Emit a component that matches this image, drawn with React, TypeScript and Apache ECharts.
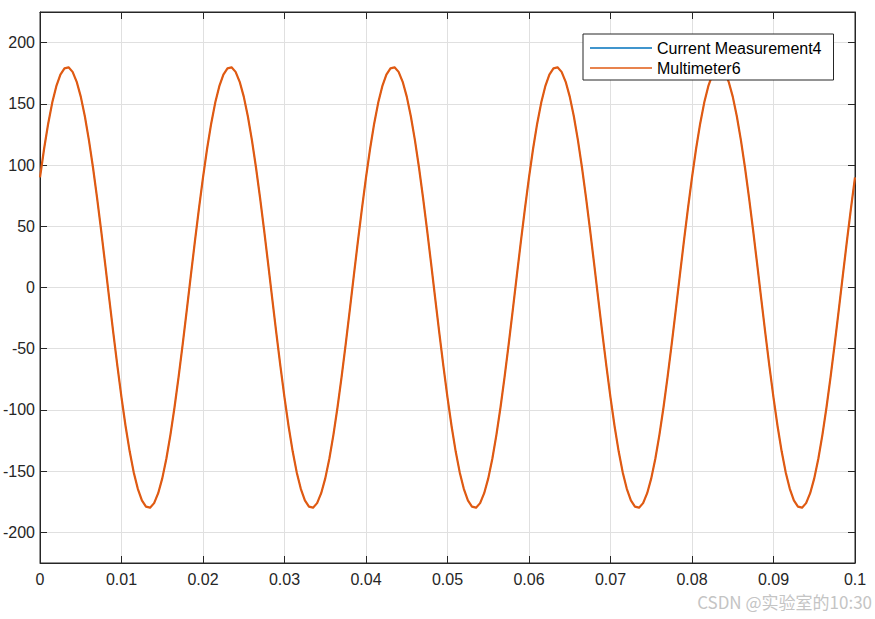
import React, { useEffect, useRef } from "react";
import * as echarts from "echarts";

// sampling step of the recorded signal (s)
const sampleStep = 0.0005;

// Current Measurement4 samples (A), one row per 0.02 s cycle
const currentMeasurement4: number[] = [
  90.0, 113.3, 133.8, 151.0, 164.4, 173.9, 179.0, 179.8, 176.1, 168.0, 155.9, 139.9, 120.4, 98.0, 73.2, 46.6, 18.8, -9.4, -37.4, -64.5,
  -90.0, -113.3, -133.8, -151.0, -164.4, -173.9, -179.0, -179.8, -176.1, -168.0, -155.9, -139.9, -120.4, -98.0, -73.2, -46.6, -18.8, 9.4, 37.4, 64.5,
  90.0, 113.3, 133.8, 151.0, 164.4, 173.9, 179.0, 179.8, 176.1, 168.0, 155.9, 139.9, 120.4, 98.0, 73.2, 46.6, 18.8, -9.4, -37.4, -64.5,
  -90.0, -113.3, -133.8, -151.0, -164.4, -173.9, -179.0, -179.8, -176.1, -168.0, -155.9, -139.9, -120.4, -98.0, -73.2, -46.6, -18.8, 9.4, 37.4, 64.5,
  90.0, 113.3, 133.8, 151.0, 164.4, 173.9, 179.0, 179.8, 176.1, 168.0, 155.9, 139.9, 120.4, 98.0, 73.2, 46.6, 18.8, -9.4, -37.4, -64.5,
  -90.0, -113.3, -133.8, -151.0, -164.4, -173.9, -179.0, -179.8, -176.1, -168.0, -155.9, -139.9, -120.4, -98.0, -73.2, -46.6, -18.8, 9.4, 37.4, 64.5,
  90.0, 113.3, 133.8, 151.0, 164.4, 173.9, 179.0, 179.8, 176.1, 168.0, 155.9, 139.9, 120.4, 98.0, 73.2, 46.6, 18.8, -9.4, -37.4, -64.5,
  -90.0, -113.3, -133.8, -151.0, -164.4, -173.9, -179.0, -179.8, -176.1, -168.0, -155.9, -139.9, -120.4, -98.0, -73.2, -46.6, -18.8, 9.4, 37.4, 64.5,
  90.0, 113.3, 133.8, 151.0, 164.4, 173.9, 179.0, 179.8, 176.1, 168.0, 155.9, 139.9, 120.4, 98.0, 73.2, 46.6, 18.8, -9.4, -37.4, -64.5,
  -90.0, -113.3, -133.8, -151.0, -164.4, -173.9, -179.0, -179.8, -176.1, -168.0, -155.9, -139.9, -120.4, -98.0, -73.2, -46.6, -18.8, 9.4, 37.4, 64.5,
  90.0,
];

// Multimeter6 reads the same waveform (it overlays the first trace exactly)
const multimeter6: number[] = [
  90.0, 113.3, 133.8, 151.0, 164.4, 173.9, 179.0, 179.8, 176.1, 168.0, 155.9, 139.9, 120.4, 98.0, 73.2, 46.6, 18.8, -9.4, -37.4, -64.5,
  -90.0, -113.3, -133.8, -151.0, -164.4, -173.9, -179.0, -179.8, -176.1, -168.0, -155.9, -139.9, -120.4, -98.0, -73.2, -46.6, -18.8, 9.4, 37.4, 64.5,
  90.0, 113.3, 133.8, 151.0, 164.4, 173.9, 179.0, 179.8, 176.1, 168.0, 155.9, 139.9, 120.4, 98.0, 73.2, 46.6, 18.8, -9.4, -37.4, -64.5,
  -90.0, -113.3, -133.8, -151.0, -164.4, -173.9, -179.0, -179.8, -176.1, -168.0, -155.9, -139.9, -120.4, -98.0, -73.2, -46.6, -18.8, 9.4, 37.4, 64.5,
  90.0, 113.3, 133.8, 151.0, 164.4, 173.9, 179.0, 179.8, 176.1, 168.0, 155.9, 139.9, 120.4, 98.0, 73.2, 46.6, 18.8, -9.4, -37.4, -64.5,
  -90.0, -113.3, -133.8, -151.0, -164.4, -173.9, -179.0, -179.8, -176.1, -168.0, -155.9, -139.9, -120.4, -98.0, -73.2, -46.6, -18.8, 9.4, 37.4, 64.5,
  90.0, 113.3, 133.8, 151.0, 164.4, 173.9, 179.0, 179.8, 176.1, 168.0, 155.9, 139.9, 120.4, 98.0, 73.2, 46.6, 18.8, -9.4, -37.4, -64.5,
  -90.0, -113.3, -133.8, -151.0, -164.4, -173.9, -179.0, -179.8, -176.1, -168.0, -155.9, -139.9, -120.4, -98.0, -73.2, -46.6, -18.8, 9.4, 37.4, 64.5,
  90.0, 113.3, 133.8, 151.0, 164.4, 173.9, 179.0, 179.8, 176.1, 168.0, 155.9, 139.9, 120.4, 98.0, 73.2, 46.6, 18.8, -9.4, -37.4, -64.5,
  -90.0, -113.3, -133.8, -151.0, -164.4, -173.9, -179.0, -179.8, -176.1, -168.0, -155.9, -139.9, -120.4, -98.0, -73.2, -46.6, -18.8, 9.4, 37.4, 64.5,
  90.0,
];

const seriesNames = ["Current Measurement4", "Multimeter6"];
const seriesColors = ["#0072BD", "#E05A12"];

const xMin = 0;
const xMax = 0.1;
const xStep = 0.01;
const yMin = -225;
const yMax = 225;
const yStep = 50;

const watermark = "CSDN @实验室的10:30";

const FONT = '"Liberation Sans", Arial, Helvetica, sans-serif';

export default function App() {
  const ref = useRef<HTMLDivElement>(null);

  useEffect(() => {
    if (!ref.current) return;
    const chart = echarts.init(ref.current, null, { renderer: "svg" });

    const toPairs = (vals: number[]) => vals.map((v, i) => [i * sampleStep, v]);

    const axisTextColor = "#262626";
    const gridColor = "#e0e0e0";
    const axisColor = "#262626";

    chart.setOption({
      animation: false,
      backgroundColor: "#ffffff",
      textStyle: { fontFamily: FONT },
      grid: {
        left: 38,
        right: 20,
        top: 12,
        bottom: 56,
        show: true,
        borderColor: axisColor,
        borderWidth: 1,
        backgroundColor: "#ffffff",
      },
      legend: {
        data: seriesNames,
        orient: "vertical",
        left: 583,
        top: 34,
        icon: "rect",
        itemWidth: 62,
        itemHeight: 1.5,
        itemGap: 4,
        padding: [6, 12, 4, 7],
        backgroundColor: "#ffffff",
        borderColor: axisColor,
        borderWidth: 1,
        borderRadius: 0,
        textStyle: { fontSize: 16, color: "#000000", fontFamily: FONT },
        selectedMode: false,
      },
      xAxis: [
        {
          type: "value",
          min: xMin,
          max: xMax,
          interval: xStep,
          position: "bottom",
          axisLine: { show: true, onZero: false, lineStyle: { color: axisColor, width: 1 } },
          axisTick: { show: true, inside: true, length: 7, lineStyle: { color: axisColor } },
          axisLabel: {
            fontSize: 16,
            color: axisTextColor,
            margin: 8,
            fontFamily: FONT,
            formatter: (v: number) => String(Number(v.toFixed(4))),
          },
          splitLine: { show: true, lineStyle: { color: gridColor, width: 1 } },
        },
        {
          type: "value",
          min: xMin,
          max: xMax,
          interval: xStep,
          position: "top",
          axisLine: { show: true, onZero: false, lineStyle: { color: axisColor, width: 1 } },
          axisTick: { show: true, inside: true, length: 7, lineStyle: { color: axisColor } },
          axisLabel: { show: false },
          splitLine: { show: false },
        },
      ],
      yAxis: [
        {
          type: "value",
          min: yMin,
          max: yMax,
          minInterval: yStep,
          maxInterval: yStep,
          position: "left",
          axisLine: { show: true, onZero: false, lineStyle: { color: axisColor, width: 1 } },
          axisTick: { show: true, inside: true, length: 7, lineStyle: { color: axisColor } },
          axisLabel: {
            fontSize: 16,
            color: axisTextColor,
            margin: 5,
            fontFamily: FONT,
            showMinLabel: false,
            showMaxLabel: false,
            formatter: (v: number) => (v % yStep === 0 ? String(v) : ""),
          },
          splitLine: { show: true, lineStyle: { color: gridColor, width: 1 } },
        },
        {
          type: "value",
          min: yMin,
          max: yMax,
          minInterval: yStep,
          maxInterval: yStep,
          position: "right",
          axisLine: { show: true, onZero: false, lineStyle: { color: axisColor, width: 1 } },
          axisTick: { show: true, inside: true, length: 7, lineStyle: { color: axisColor } },
          axisLabel: { show: false },
          splitLine: { show: false },
        },
      ],
      series: [
        {
          name: seriesNames[0],
          type: "line",
          data: toPairs(currentMeasurement4),
          showSymbol: false,
          smooth: false,
          color: seriesColors[0],
          lineStyle: { color: seriesColors[0], width: 1, join: "round" },
          z: 2,
        },
        {
          name: seriesNames[1],
          type: "line",
          data: toPairs(multimeter6),
          showSymbol: false,
          smooth: false,
          color: seriesColors[1],
          lineStyle: { color: seriesColors[1], width: 2.2, join: "round" },
          z: 3,
        },
      ],
      graphic: [
        {
          type: "text",
          right: 3,
          top: 593,
          silent: true,
          style: {
            text: watermark,
            fill: "#c4c4c4",
            font: '17px "Noto Sans CJK SC", "Liberation Sans", sans-serif',
          },
        },
      ],
    });

    return () => chart.dispose();
  }, []);

  return (
    <div
      ref={ref}
      style={{ position: "fixed", left: 0, top: 0, width: 875, height: 619, background: "#ffffff" }}
    />
  );
}
